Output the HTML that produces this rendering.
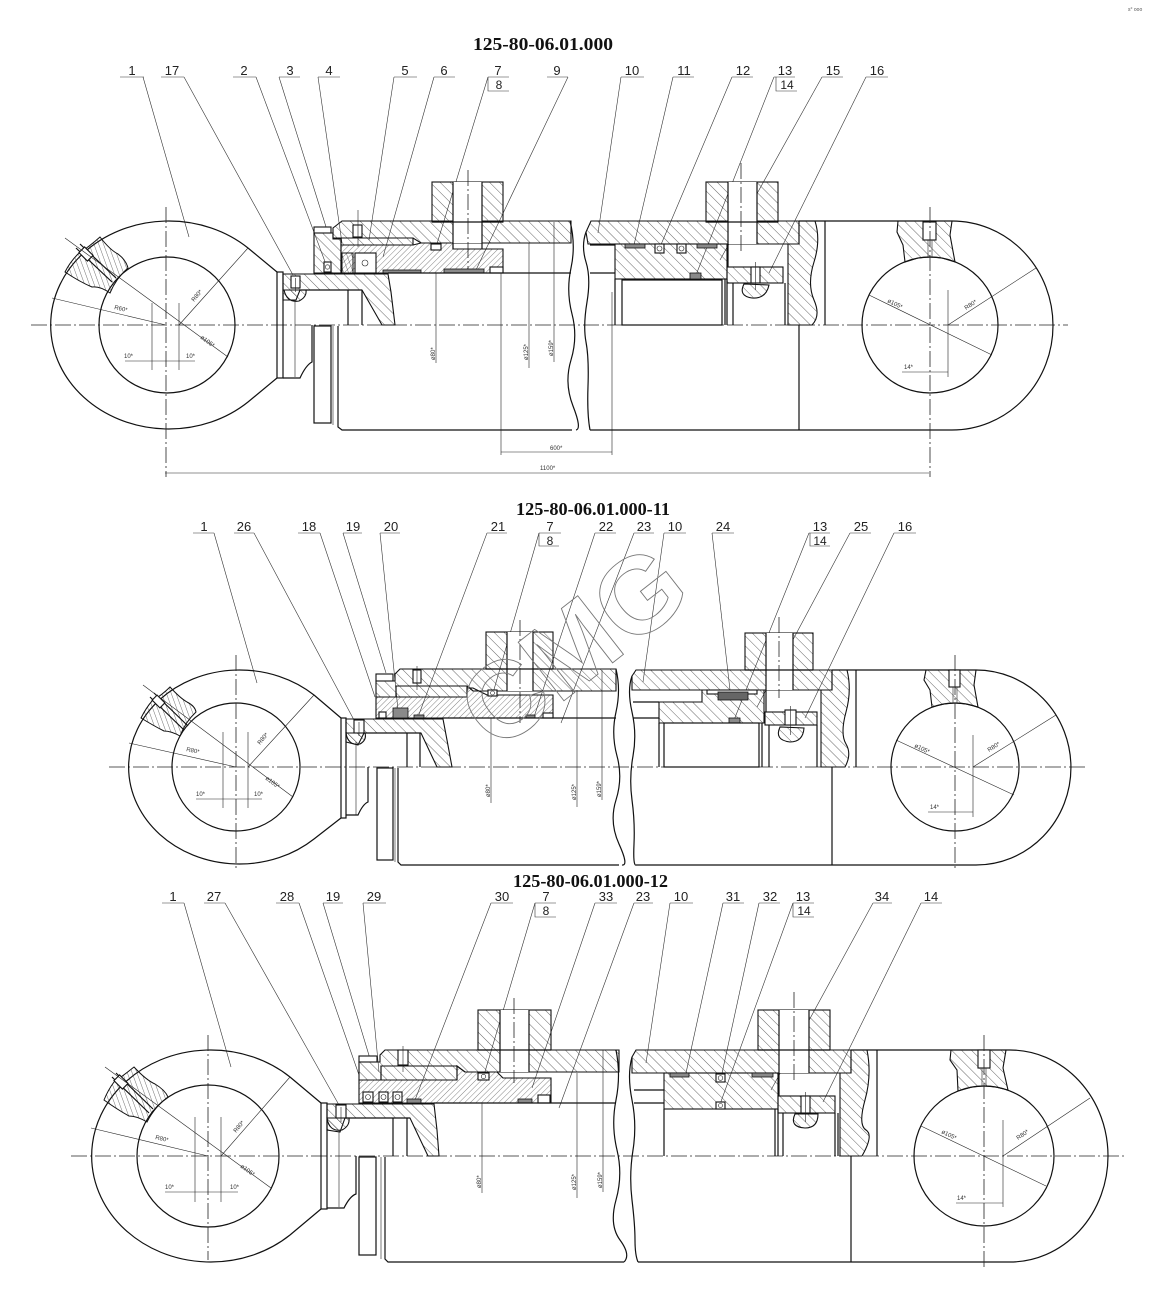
<!DOCTYPE html>
<html><head><meta charset="utf-8"><style>
html,body{margin:0;padding:0;background:#fff}
svg{display:block}
.k{stroke:#111;stroke-width:1.2;fill:none}
.kw{stroke:#111;stroke-width:1.1;fill:#fff}
.t{stroke:#222;stroke-width:0.6;fill:none}
.c{stroke:#222;stroke-width:0.8;stroke-dasharray:16 3 2 3;fill:none}
.h1{fill:url(#hA);stroke:#111;stroke-width:1.1}
.h2{fill:url(#hB);stroke:#111;stroke-width:1.1}
.h3{fill:url(#hC);stroke:#111;stroke-width:1}
.sd{fill:#8a8a8a;stroke:#111;stroke-width:0.8}
.lbl{font-family:"Liberation Sans Narrow","Liberation Sans",sans-serif;font-size:13px;fill:#222;text-anchor:middle}
.dim{font-family:"Liberation Sans",sans-serif;font-size:6px;fill:#333}
.ttl{font-family:"Liberation Serif",serif;font-weight:bold;font-size:18px;fill:#111}
.ld{stroke:#333;stroke-width:0.6;fill:none}
</style></head><body>
<svg width="1159" height="1295" viewBox="0 0 1159 1295" xmlns="http://www.w3.org/2000/svg">
<defs>
<pattern id="hA" width="7" height="7" patternUnits="userSpaceOnUse" patternTransform="rotate(-45)"><line x1="0" y1="-1" x2="0" y2="8" stroke="#333" stroke-width="0.75"/></pattern>
<pattern id="hB" width="4" height="4" patternUnits="userSpaceOnUse" patternTransform="rotate(45)"><line x1="0" y1="-1" x2="0" y2="5" stroke="#333" stroke-width="0.6"/></pattern>
<pattern id="hC" width="4.5" height="4.5" patternUnits="userSpaceOnUse" patternTransform="rotate(-20)"><line x1="0" y1="-1" x2="0" y2="6" stroke="#333" stroke-width="0.7"/></pattern>
</defs>
<rect width="1159" height="1295" fill="#fff"/>
<text x="1128" y="11" style="font-family:'Liberation Sans',sans-serif;font-size:5px;fill:#555">s° ooo</text>

<!-- ================= SECTION 1 ================= -->
<text class="ttl" x="473" y="50" textLength="140" lengthAdjust="spacingAndGlyphs">125-80-06.01.000</text>
<g>
<text class="lbl" x="132" y="75">1</text><line class="ld" x1="120" y1="77" x2="144" y2="77"/><line class="ld" x1="143" y1="77" x2="189" y2="237"/>
<text class="lbl" x="172" y="75">17</text><line class="ld" x1="161" y1="77" x2="184" y2="77"/><line class="ld" x1="184" y1="77" x2="293" y2="275"/>
<text class="lbl" x="244" y="75">2</text><line class="ld" x1="233" y1="77" x2="256" y2="77"/><line class="ld" x1="256" y1="77" x2="327" y2="267"/>
<text class="lbl" x="290" y="75">3</text><line class="ld" x1="279" y1="77" x2="300" y2="77"/><line class="ld" x1="279" y1="77" x2="327" y2="230"/>
<text class="lbl" x="329" y="75">4</text><line class="ld" x1="318" y1="77" x2="340" y2="77"/><line class="ld" x1="318" y1="77" x2="342" y2="243"/>
<text class="lbl" x="405" y="75">5</text><line class="ld" x1="394" y1="77" x2="417" y2="77"/><line class="ld" x1="394" y1="77" x2="369" y2="240"/>
<text class="lbl" x="444" y="75">6</text><line class="ld" x1="434" y1="77" x2="455" y2="77"/><line class="ld" x1="434" y1="77" x2="383" y2="257"/>
<text class="lbl" x="498" y="75">7</text><line class="ld" x1="488" y1="77" x2="509" y2="77"/><polyline class="ld" points="488,77 488,91 509,91"/><text class="lbl" x="499" y="89" style="font-size:12px">8</text><line class="ld" x1="488" y1="77" x2="436" y2="247"/>
<text class="lbl" x="557" y="75">9</text><line class="ld" x1="547" y1="77" x2="568" y2="77"/><line class="ld" x1="568" y1="77" x2="476" y2="270"/>
<text class="lbl" x="632" y="75">10</text><line class="ld" x1="621" y1="77" x2="644" y2="77"/><line class="ld" x1="621" y1="77" x2="598" y2="233"/>
<text class="lbl" x="684" y="75">11</text><line class="ld" x1="673" y1="77" x2="694" y2="77"/><line class="ld" x1="673" y1="77" x2="634" y2="245"/>
<text class="lbl" x="743" y="75">12</text><line class="ld" x1="732" y1="77" x2="753" y2="77"/><line class="ld" x1="732" y1="77" x2="660" y2="247"/>
<text class="lbl" x="785" y="75">13</text><line class="ld" x1="774" y1="77" x2="795" y2="77"/><polyline class="ld" points="776,77 776,91 797,91"/><text class="lbl" x="787" y="89" style="font-size:12px">14</text><line class="ld" x1="774" y1="77" x2="696" y2="275"/>
<text class="lbl" x="833" y="75">15</text><line class="ld" x1="822" y1="77" x2="843" y2="77"/><line class="ld" x1="822" y1="77" x2="720" y2="260"/>
<text class="lbl" x="877" y="75">16</text><line class="ld" x1="866" y1="77" x2="888" y2="77"/><line class="ld" x1="866" y1="77" x2="769" y2="273"/>
</g>

<line class="c" x1="31" y1="325" x2="1068" y2="325"/>
<!-- left eye -->
<path class="k" d="M248,248 L277,272 M248,248 A118,104 0 1,0 248,402 L277,378"/>
<circle class="k" cx="167" cy="325" r="68"/>
<path class="h3" d="M100,237 Q110,250 118,254 Q126,260 128,268 A68,68 0 0,0 110,293 Q100,286 92,287 Q80,282 65,272 Q70,262 78,254 Q90,246 100,237 Z"/>
<line class="k" x1="76" y1="248" x2="112" y2="282"/>
<line class="k" x1="80" y1="244" x2="116" y2="278"/>
<rect class="kw" x="82" y="248" width="8" height="12" transform="rotate(-45 86 254)"/>
<line class="t" x1="65" y1="238" x2="228" y2="357"/>
<line class="c" x1="166" y1="207" x2="166" y2="477"/>
<line class="t" x1="152" y1="303" x2="152" y2="370"/><line class="t" x1="179" y1="303" x2="179" y2="370"/>
<line class="t" x1="125" y1="361" x2="195" y2="361"/>
<text class="dim" x="124" y="358">10*</text><text class="dim" x="186" y="358">10*</text>
<line class="t" x1="52" y1="298" x2="166" y2="325"/>
<line class="t" x1="179" y1="325" x2="248" y2="248"/>
<text class="dim" transform="translate(114,309) rotate(13)">R60*</text>
<text class="dim" transform="translate(194,302) rotate(-50)">R80*</text>
<text class="dim" transform="translate(200,338) rotate(37)">ø105*</text>
<!-- rod end -->
<rect class="k" x="277" y="272" width="6" height="106"/>
<polygon class="h1" points="283,274 388,274 391,292 395,325 382,325 362,290 300,290 296,300 283,300"/>
<path class="h1" d="M284,290 Q287,303 299,301 Q307,297 306,290 Z"/>
<rect class="kw" x="291" y="276" width="9" height="12"/><line class="t" x1="295.5" y1="278" x2="295.5" y2="292"/>
<line class="k" x1="300" y1="290" x2="362" y2="290"/>
<line class="k" x1="348" y1="290" x2="348" y2="325"/>
<line class="k" x1="362" y1="290" x2="362" y2="325"/>
<line class="t" x1="295" y1="300" x2="295" y2="377"/>
<path class="k" d="M283,378 L300,378 Q306,365 312,362 L312,325"/>
<rect class="k" x="314" y="326" width="17" height="97"/>
<line class="t" x1="333" y1="326" x2="333" y2="425"/>
<path class="k" d="M338,326 L338,427 L342,430 L572,430"/>
<!-- gland -->
<rect class="kw" x="314" y="227" width="17" height="6"/>
<polygon class="h1" points="314,233 333,233 333,239 341,239 341,273 314,273"/>
<polygon class="h1" points="333,228 342,221 571,221 571,243 421,243 413,238 333,238"/>
<polygon class="h1" points="341,238 413,238 413,245 341,245"/>
<polygon class="h2" points="341,245 413,245 421,243 453,243 453,249 503,249 503,273 341,273"/>
<rect class="h1" x="432" y="182" width="71" height="40"/>
<rect x="453" y="182" width="29" height="61" fill="#fff"/>
<line class="k" x1="453" y1="182" x2="453" y2="249"/><line class="k" x1="482" y1="182" x2="482" y2="249"/>
<line class="k" x1="432" y1="222" x2="503" y2="222"/>
<line class="c" x1="468" y1="170" x2="468" y2="270"/>
<rect class="kw" x="324" y="262" width="7" height="10"/><circle class="t" cx="327.5" cy="267" r="2.2"/>
<rect class="h3" x="342" y="253" width="11" height="20"/>
<rect class="kw" x="355" y="253" width="21" height="20"/><circle class="t" cx="365" cy="263" r="3"/>
<rect class="sd" x="383" y="270" width="38" height="3"/>
<rect class="sd" x="444" y="269" width="40" height="4"/>
<rect class="kw" x="431" y="244" width="10" height="6"/>
<rect class="kw" x="353" y="225" width="9" height="12"/><line class="t" x1="358" y1="210" x2="358" y2="247"/>
<rect class="kw" x="490" y="267" width="13" height="6"/>
<line class="k" x1="388" y1="273" x2="571" y2="273"/>
<!-- dims -->
<line class="t" x1="436" y1="273" x2="436" y2="363"/><text class="dim" transform="translate(435,360) rotate(-90)">ø80*</text>
<line class="t" x1="529" y1="243" x2="529" y2="368"/><text class="dim" transform="translate(528,360) rotate(-90)">ø125*</text>
<line class="t" x1="554" y1="222" x2="554" y2="362"/><text class="dim" transform="translate(553,356) rotate(-90)">ø159*</text>
<line class="t" x1="501" y1="273" x2="501" y2="455"/><line class="t" x1="612" y1="292" x2="612" y2="455"/>
<line class="t" x1="501" y1="452" x2="612" y2="452"/><text class="dim" x="550" y="450">600*</text>
<line class="t" x1="165" y1="473" x2="929" y2="473"/><text class="dim" x="540" y="470">1100*</text>
<!-- breaks -->
<path class="k" d="M570,221 Q576,245 571,268 T572,314 T571,360 T573,406 T576,430"/>
<path class="k" d="M586,232 Q581,246 586,262 T587,302 T586,342 T588,386 T590,430"/>
<!-- right side -->
<polygon class="h1" points="586,232 591,221 799,221 799,244 588,244"/>
<rect class="h1" x="706" y="182" width="72" height="40"/>
<rect x="728" y="182" width="29" height="62" fill="#fff"/>
<line class="k" x1="728" y1="182" x2="728" y2="267"/><line class="k" x1="757" y1="182" x2="757" y2="244"/>
<line class="k" x1="706" y1="222" x2="778" y2="222"/>
<line class="c" x1="741" y1="163" x2="741" y2="253"/>
<line class="k" x1="590" y1="245" x2="615" y2="245"/>
<line class="k" x1="590" y1="273" x2="615" y2="273"/>
<rect class="h1" x="615" y="244" width="112" height="35"/>
<rect class="sd" x="625" y="244" width="20" height="4"/>
<rect class="kw" x="655" y="244" width="9" height="9"/><circle class="t" cx="659.5" cy="248.5" r="2.5"/>
<rect class="kw" x="677" y="244" width="9" height="9"/><circle class="t" cx="681.5" cy="248.5" r="2.5"/>
<rect class="sd" x="697" y="244" width="20" height="4"/>
<rect class="sd" x="690" y="273" width="11" height="6"/>
<line class="k" x1="615" y1="279" x2="615" y2="325"/>
<rect class="k" x="622" y="280" width="100" height="45"/>
<line class="k" x1="725" y1="279" x2="725" y2="325"/><line class="k" x1="727" y1="279" x2="727" y2="325"/>
<line class="k" x1="733" y1="283" x2="733" y2="325"/><line class="k" x1="785" y1="283" x2="785" y2="325"/>
<rect class="h1" x="727" y="267" width="56" height="16"/>
<rect class="kw" x="751" y="267" width="9" height="16"/><line class="t" x1="755.5" y1="262" x2="755.5" y2="290"/>
<path class="h1" d="M744,284 Q738,296 752,298 Q766,299 769,285 Z"/>
<path class="h1" d="M788,244 L799,244 L799,221 L815,221 Q821,240 814,262 T814,300 T812,325 L788,325 Z"/>
<line class="k" x1="825" y1="221" x2="825" y2="325"/>
<line class="k" x1="590" y1="430" x2="799" y2="430"/>
<line class="k" x1="799" y1="325" x2="799" y2="430"/>
<path class="k" d="M799,221 L952,221 A101,104.5 0 0,1 952,430 L799,430"/>
<circle class="k" cx="930" cy="325" r="68"/>
<polygon class="h1" points="898,221 952,221 950,235 955,262 942,258 930,257 918,258 905,262 903,245 897,232"/>
<rect class="kw" x="923" y="222" width="13" height="18"/>
<line class="t" x1="928" y1="240" x2="928" y2="258"/><line class="t" x1="932" y1="240" x2="932" y2="258"/>
<line class="c" x1="930" y1="207" x2="930" y2="477"/>
<line class="t" x1="869" y1="295" x2="992" y2="355"/>
<line class="t" x1="948" y1="325" x2="1036" y2="268"/>
<line class="t" x1="948" y1="290" x2="948" y2="377"/>
<line class="t" x1="902" y1="372" x2="948" y2="372"/>
<text class="dim" transform="translate(887,302) rotate(26)">ø105*</text>
<text class="dim" transform="translate(966,310) rotate(-33)">R80*</text>
<text class="dim" x="904" y="369">14*</text>

<!-- ================= SECTION 2 ================= -->
<text class="ttl" x="516" y="515" textLength="154" lengthAdjust="spacingAndGlyphs">125-80-06.01.000-11</text>
<g>
<text class="lbl" x="204" y="531">1</text><line class="ld" x1="193" y1="533" x2="214" y2="533"/><line class="ld" x1="214" y1="533" x2="257" y2="683"/>
<text class="lbl" x="244" y="531">26</text><line class="ld" x1="234" y1="533" x2="254" y2="533"/><line class="ld" x1="254" y1="533" x2="354" y2="720"/>
<text class="lbl" x="309" y="531">18</text><line class="ld" x1="298" y1="533" x2="320" y2="533"/><line class="ld" x1="320" y1="533" x2="375" y2="697"/>
<text class="lbl" x="353" y="531">19</text><line class="ld" x1="343" y1="533" x2="362" y2="533"/><line class="ld" x1="343" y1="533" x2="386" y2="673"/>
<text class="lbl" x="391" y="531">20</text><line class="ld" x1="380" y1="533" x2="400" y2="533"/><line class="ld" x1="380" y1="533" x2="398" y2="710"/>
<text class="lbl" x="498" y="531">21</text><line class="ld" x1="487" y1="533" x2="507" y2="533"/><line class="ld" x1="487" y1="533" x2="418" y2="717"/>
<text class="lbl" x="550" y="531">7</text><line class="ld" x1="539" y1="533" x2="561" y2="533"/><polyline class="ld" points="539,533 539,546 559,546"/><text class="lbl" x="550" y="545" style="font-size:12px">8</text><line class="ld" x1="539" y1="533" x2="493" y2="693"/>
<text class="lbl" x="606" y="531">22</text><line class="ld" x1="595" y1="533" x2="616" y2="533"/><line class="ld" x1="595" y1="533" x2="534" y2="717"/>
<text class="lbl" x="644" y="531">23</text><line class="ld" x1="634" y1="533" x2="654" y2="533"/><line class="ld" x1="634" y1="533" x2="561" y2="723"/>
<text class="lbl" x="675" y="531">10</text><line class="ld" x1="664" y1="533" x2="686" y2="533"/><line class="ld" x1="664" y1="533" x2="643" y2="682"/>
<text class="lbl" x="723" y="531">24</text><line class="ld" x1="712" y1="533" x2="734" y2="533"/><line class="ld" x1="712" y1="533" x2="730" y2="690"/>
<text class="lbl" x="820" y="531">13</text><line class="ld" x1="809" y1="533" x2="830" y2="533"/><polyline class="ld" points="810,533 810,546 830,546"/><text class="lbl" x="820" y="545" style="font-size:12px">14</text><line class="ld" x1="809" y1="533" x2="734" y2="720"/>
<text class="lbl" x="861" y="531">25</text><line class="ld" x1="850" y1="533" x2="871" y2="533"/><line class="ld" x1="850" y1="533" x2="757" y2="707"/>
<text class="lbl" x="905" y="531">16</text><line class="ld" x1="894" y1="533" x2="916" y2="533"/><line class="ld" x1="894" y1="533" x2="805" y2="718"/>
</g>

<line class="c" x1="109" y1="767" x2="1085" y2="767"/>
<!-- left eye -->
<path class="k" d="M314,695 L341,718 M314,695 A111,97 0 1,0 314,839 L341,818"/>
<circle class="k" cx="236" cy="767" r="64"/>
<path class="h3" d="M170,687 Q180,698 187,702 Q195,706 196,712 A64,64 0 0,0 180,736 Q171,731 164,731 Q154,726 141,718 Q146,708 152,701 Q162,695 170,687 Z"/>
<line class="k" x1="150" y1="697" x2="184" y2="730"/>
<line class="k" x1="154" y1="693" x2="188" y2="726"/>
<rect class="kw" x="155" y="696" width="7" height="11" transform="rotate(-45 158.5 701.5)"/>
<line class="t" x1="143" y1="685" x2="293" y2="797"/>
<line class="c" x1="236" y1="655" x2="236" y2="868"/>
<line class="t" x1="223" y1="732" x2="223" y2="808"/><line class="t" x1="248" y1="732" x2="248" y2="808"/>
<line class="t" x1="196" y1="799" x2="262" y2="799"/>
<text class="dim" x="196" y="796">10*</text><text class="dim" x="254" y="796">10*</text>
<line class="t" x1="129" y1="743" x2="236" y2="767"/>
<line class="t" x1="248" y1="767" x2="314" y2="695"/>
<text class="dim" transform="translate(186,751) rotate(12)">R80*</text>
<text class="dim" transform="translate(260,745) rotate(-50)">R80*</text>
<text class="dim" transform="translate(265,779) rotate(37)">ø105*</text>
<!-- rod end -->
<rect class="k" x="341" y="718" width="5" height="100"/>
<polygon class="h1" points="346,719 443,719 447,740 452,767 437,767 421,733 364,733 358,745 346,742"/>
<path class="h1" d="M346,733 Q348,746 360,744 Q367,740 365,733 Z"/>
<rect class="kw" x="354" y="720" width="10" height="13"/><line class="t" x1="359" y1="722" x2="359" y2="736"/>
<line class="k" x1="364" y1="733" x2="421" y2="733"/>
<line class="k" x1="407" y1="733" x2="407" y2="767"/><line class="k" x1="420" y1="733" x2="420" y2="767"/>
<line class="t" x1="356" y1="742" x2="356" y2="815"/>
<path class="k" d="M346,815 L358,815 Q363,804 368,802 L368,767"/>
<rect class="k" x="377" y="768" width="16" height="92"/>
<line class="t" x1="395" y1="768" x2="395" y2="862"/>
<path class="k" d="M398,768 L398,862 L401,865 L619,865"/>
<!-- gland -->
<rect class="kw" x="376" y="674" width="17" height="7"/>
<polygon class="h1" points="376,681 395,681 395,674 400,669 616,669 616,691 473,691 467,686 396,686 396,697 376,697"/>
<polygon class="h1" points="396,686 467,686 467,697 396,697"/>
<polygon class="h2" points="376,697 467,697 467,688 473,688 487,695 553,695 553,718 376,718"/>
<rect class="h1" x="486" y="632" width="67" height="37"/>
<rect x="507" y="632" width="26" height="59" fill="#fff"/>
<line class="k" x1="507" y1="632" x2="507" y2="691"/><line class="k" x1="533" y1="632" x2="533" y2="691"/>
<line class="k" x1="486" y1="669" x2="553" y2="669"/>
<line class="c" x1="520" y1="620" x2="520" y2="723"/>
<rect class="kw" x="379" y="712" width="7" height="6"/>
<rect class="sd" x="393" y="708" width="15" height="10"/>
<rect class="sd" x="414" y="715" width="10" height="3"/>
<rect class="kw" x="488" y="690" width="9" height="6"/><circle class="t" cx="492.5" cy="693" r="2"/>
<rect class="sd" x="526" y="715" width="9" height="3"/>
<rect class="kw" x="413" y="670" width="8" height="13"/><line class="t" x1="417" y1="666" x2="417" y2="690"/>
<rect class="kw" x="543" y="713" width="10" height="5"/>
<line class="k" x1="443" y1="718" x2="616" y2="718"/>
<line class="t" x1="491" y1="718" x2="491" y2="803"/><text class="dim" transform="translate(490,797) rotate(-90)">ø80*</text>
<line class="t" x1="577" y1="690" x2="577" y2="807"/><text class="dim" transform="translate(576,800) rotate(-90)">ø125*</text>
<line class="t" x1="602" y1="670" x2="602" y2="800"/><text class="dim" transform="translate(601,797) rotate(-90)">ø159*</text>
<path class="k" d="M616,669 Q621,690 616,712 T617,756 T616,800 T619,844 T622,865"/>
<path class="k" d="M632,676 Q627,690 632,712 T633,756 T632,800 T634,844 T636,865"/>
<!-- right side -->
<polygon class="h1" points="632,676 636,670 832,670 832,690 632,690"/>
<rect class="h1" x="745" y="633" width="68" height="37"/>
<rect x="766" y="633" width="27" height="57" fill="#fff"/>
<line class="k" x1="766" y1="633" x2="766" y2="712"/><line class="k" x1="793" y1="633" x2="793" y2="690"/>
<line class="k" x1="745" y1="670" x2="813" y2="670"/>
<line class="c" x1="779" y1="617" x2="779" y2="698"/>
<line class="k" x1="633" y1="718" x2="659" y2="718"/>
<line class="k" x1="633" y1="702" x2="659" y2="702"/>
<polygon class="h1" points="659,702 702,702 702,690 764,690 764,723 659,723"/>
<rect class="kw" x="707" y="690" width="50" height="4"/>
<rect class="sd" x="718" y="692" width="30" height="8" style="fill:#666"/>
<rect class="sd" x="729" y="718" width="11" height="5"/>
<line class="k" x1="659" y1="723" x2="659" y2="767"/>
<rect class="k" x="664" y="723" width="95" height="44"/>
<line class="k" x1="762" y1="723" x2="762" y2="767"/><line class="k" x1="769" y1="725" x2="769" y2="767"/>
<line class="k" x1="817" y1="725" x2="817" y2="767"/>
<rect class="h1" x="765" y="712" width="52" height="13"/>
<rect class="kw" x="785" y="710" width="11" height="15"/><line class="t" x1="790.5" y1="706" x2="790.5" y2="735"/>
<path class="h1" d="M780,727 Q774,740 790,742 Q803,742 804,728 Z"/>
<path class="h1" d="M821,690 L832,690 L832,670 L847,670 Q852,690 846,712 T846,744 T845,767 L821,767 Z"/>
<line class="k" x1="856" y1="670" x2="856" y2="767"/>
<line class="k" x1="636" y1="865" x2="832" y2="865"/>
<line class="k" x1="832" y1="767" x2="832" y2="865"/>
<path class="k" d="M832,670 L976,670 A95,97.5 0 0,1 976,865 L832,865"/>
<circle class="k" cx="955" cy="767" r="64"/>
<polygon class="h1" points="926,670 976,670 974,685 978,707 966,704 955,703 944,704 932,707 930,690 924,680"/>
<rect class="kw" x="949" y="670" width="11" height="17"/>
<line class="t" x1="953" y1="687" x2="953" y2="703"/><line class="t" x1="957" y1="687" x2="957" y2="703"/>
<line class="c" x1="955" y1="655" x2="955" y2="870"/>
<line class="t" x1="896" y1="740" x2="1014" y2="795"/>
<line class="t" x1="973" y1="767" x2="1056" y2="715"/>
<line class="t" x1="973" y1="735" x2="973" y2="817"/>
<line class="t" x1="928" y1="812" x2="973" y2="812"/>
<text class="dim" transform="translate(914,747) rotate(25)">ø105*</text>
<text class="dim" transform="translate(989,752) rotate(-32)">R80*</text>
<text class="dim" x="930" y="809">14*</text>
<!-- watermark -->
<text x="572" y="684" text-anchor="middle" transform="rotate(-38 572 645)" style="font-family:'Liberation Sans',sans-serif;font-weight:bold;font-size:108px;fill:none;stroke:#777;stroke-width:0.9">CMG</text>

<!-- ================= SECTION 3 ================= -->
<text class="ttl" x="513" y="887" textLength="155" lengthAdjust="spacingAndGlyphs">125-80-06.01.000-12</text>
<g>
<text class="lbl" x="173" y="901">1</text><line class="ld" x1="162" y1="903" x2="184" y2="903"/><line class="ld" x1="184" y1="903" x2="231" y2="1067"/>
<text class="lbl" x="214" y="901">27</text><line class="ld" x1="204" y1="903" x2="225" y2="903"/><line class="ld" x1="225" y1="903" x2="339" y2="1105"/>
<text class="lbl" x="287" y="901">28</text><line class="ld" x1="276" y1="903" x2="299" y2="903"/><line class="ld" x1="299" y1="903" x2="359" y2="1075"/>
<text class="lbl" x="333" y="901">19</text><line class="ld" x1="323" y1="903" x2="343" y2="903"/><line class="ld" x1="323" y1="903" x2="371" y2="1062"/>
<text class="lbl" x="374" y="901">29</text><line class="ld" x1="363" y1="903" x2="386" y2="903"/><line class="ld" x1="363" y1="903" x2="379" y2="1072"/>
<text class="lbl" x="502" y="901">30</text><line class="ld" x1="491" y1="903" x2="513" y2="903"/><line class="ld" x1="491" y1="903" x2="415" y2="1100"/>
<text class="lbl" x="546" y="901">7</text><line class="ld" x1="535" y1="903" x2="556" y2="903"/><polyline class="ld" points="535,903 535,917 556,917"/><text class="lbl" x="546" y="915" style="font-size:12px">8</text><line class="ld" x1="535" y1="903" x2="484" y2="1075"/>
<text class="lbl" x="606" y="901">33</text><line class="ld" x1="595" y1="903" x2="617" y2="903"/><line class="ld" x1="595" y1="903" x2="532" y2="1088"/>
<text class="lbl" x="643" y="901">23</text><line class="ld" x1="634" y1="903" x2="653" y2="903"/><line class="ld" x1="634" y1="903" x2="559" y2="1108"/>
<text class="lbl" x="681" y="901">10</text><line class="ld" x1="670" y1="903" x2="693" y2="903"/><line class="ld" x1="670" y1="903" x2="646" y2="1063"/>
<text class="lbl" x="733" y="901">31</text><line class="ld" x1="723" y1="903" x2="744" y2="903"/><line class="ld" x1="723" y1="903" x2="686" y2="1073"/>
<text class="lbl" x="770" y="901">32</text><line class="ld" x1="759" y1="903" x2="780" y2="903"/><line class="ld" x1="759" y1="903" x2="721" y2="1078"/>
<text class="lbl" x="803" y="901">13</text><line class="ld" x1="793" y1="903" x2="814" y2="903"/><polyline class="ld" points="793,903 793,917 814,917"/><text class="lbl" x="804" y="915" style="font-size:12px">14</text><line class="ld" x1="793" y1="903" x2="719" y2="1107"/>
<text class="lbl" x="882" y="901">34</text><line class="ld" x1="873" y1="903" x2="892" y2="903"/><line class="ld" x1="873" y1="903" x2="771" y2="1090"/>
<text class="lbl" x="931" y="901">14</text><line class="ld" x1="921" y1="903" x2="942" y2="903"/><line class="ld" x1="921" y1="903" x2="823" y2="1102"/>
</g>

<line class="c" x1="71" y1="1156" x2="1124" y2="1156"/>
<!-- left eye -->
<path class="k" d="M290,1077 L321,1103 M290,1077 A119,106 0 1,0 290,1235 L321,1209"/>
<circle class="k" cx="208" cy="1156" r="71"/>
<path class="h3" d="M134,1067 Q146,1080 155,1084 Q165,1090 168,1097 A71,71 0 0,0 147,1122 Q137,1116 129,1116 Q118,1110 104,1100 Q108,1090 114,1082 Q124,1075 134,1067 Z"/>
<line class="k" x1="112" y1="1077" x2="149" y2="1113"/>
<line class="k" x1="116" y1="1073" x2="153" y2="1109"/>
<rect class="kw" x="117" y="1076" width="8" height="12" transform="rotate(-45 121 1082)"/>
<line class="t" x1="105" y1="1067" x2="271" y2="1188"/>
<line class="c" x1="208" y1="1035" x2="208" y2="1260"/>
<line class="t" x1="195" y1="1117" x2="195" y2="1202"/><line class="t" x1="221" y1="1117" x2="221" y2="1202"/>
<line class="t" x1="165" y1="1192" x2="238" y2="1192"/>
<text class="dim" x="165" y="1189">10*</text><text class="dim" x="230" y="1189">10*</text>
<line class="t" x1="91" y1="1128" x2="208" y2="1156"/>
<line class="t" x1="221" y1="1156" x2="290" y2="1077"/>
<text class="dim" transform="translate(155,1139) rotate(13)">R80*</text>
<text class="dim" transform="translate(236,1133) rotate(-50)">R80*</text>
<text class="dim" transform="translate(240,1167) rotate(36)">ø105*</text>
<!-- rod end -->
<rect class="k" x="321" y="1103" width="6" height="106"/>
<polygon class="h1" points="327,1104 434,1104 437,1130 439,1156 428,1156 410,1118 345,1118 340,1132 327,1130"/>
<path class="h1" d="M327,1118 Q329,1132 342,1130 Q350,1126 349,1118 Z"/>
<rect class="kw" x="336" y="1105" width="10" height="13"/><line class="t" x1="341" y1="1107" x2="341" y2="1122"/>
<line class="k" x1="345" y1="1118" x2="410" y2="1118"/>
<line class="k" x1="393" y1="1118" x2="393" y2="1156"/><line class="k" x1="407" y1="1118" x2="407" y2="1156"/>
<line class="t" x1="339" y1="1130" x2="339" y2="1207"/>
<path class="k" d="M327,1208 L344,1208 Q350,1196 356,1194 L356,1156"/>
<rect class="k" x="359" y="1157" width="17" height="98"/>
<line class="t" x1="381" y1="1157" x2="381" y2="1259"/>
<path class="k" d="M385,1157 L385,1259 L388,1262 L624,1262"/>
<!-- gland -->
<rect class="kw" x="359" y="1056" width="18" height="6"/>
<polygon class="h1" points="359,1062 380,1062 380,1055 385,1050 619,1050 619,1072 497,1072 465,1072 457,1066 381,1066 381,1080 359,1080"/>
<polygon class="h1" points="381,1066 457,1066 457,1080 381,1080"/>
<polygon class="h2" points="359,1080 457,1080 457,1066 465,1072 497,1072 503,1078 551,1078 551,1103 359,1103"/>
<rect class="h1" x="478" y="1010" width="73" height="40"/>
<rect x="500" y="1010" width="29" height="62" fill="#fff"/>
<line class="k" x1="500" y1="1010" x2="500" y2="1072"/><line class="k" x1="529" y1="1010" x2="529" y2="1072"/>
<line class="k" x1="478" y1="1050" x2="551" y2="1050"/>
<line class="c" x1="514" y1="998" x2="514" y2="1083"/>
<rect class="kw" x="363" y="1092" width="10" height="10"/><circle class="t" cx="368" cy="1097" r="2.5"/>
<rect class="kw" x="379" y="1092" width="9" height="10"/><circle class="t" cx="383.5" cy="1097" r="2.5"/>
<rect class="kw" x="393" y="1092" width="9" height="10"/><circle class="t" cx="397.5" cy="1097" r="2.5"/>
<rect class="sd" x="407" y="1099" width="14" height="4"/>
<rect class="kw" x="478" y="1073" width="11" height="7"/><circle class="t" cx="483.5" cy="1076.5" r="2.2"/>
<rect class="sd" x="518" y="1099" width="14" height="4"/>
<rect class="kw" x="538" y="1095" width="12" height="8"/>
<rect class="kw" x="398" y="1050" width="10" height="15"/><line class="t" x1="403" y1="1046" x2="403" y2="1072"/>
<line class="k" x1="434" y1="1103" x2="616" y2="1103"/>
<line class="t" x1="482" y1="1103" x2="482" y2="1193"/><text class="dim" transform="translate(481,1188) rotate(-90)">ø80*</text>
<line class="t" x1="577" y1="1073" x2="577" y2="1198"/><text class="dim" transform="translate(576,1190) rotate(-90)">ø125*</text>
<line class="t" x1="603" y1="1050" x2="603" y2="1192"/><text class="dim" transform="translate(602,1188) rotate(-90)">ø159*</text>
<path class="k" d="M616,1050 Q621,1075 616,1100 T617,1150 T616,1200 T620,1240 T624,1262"/>
<path class="k" d="M632,1057 Q627,1075 632,1100 T633,1150 T632,1200 T635,1240 T638,1262"/>
<!-- right side -->
<polygon class="h1" points="632,1057 636,1050 851,1050 851,1073 632,1073"/>
<rect class="h1" x="758" y="1010" width="72" height="40"/>
<rect x="779" y="1010" width="30" height="63" fill="#fff"/>
<line class="k" x1="779" y1="1010" x2="779" y2="1096"/><line class="k" x1="809" y1="1010" x2="809" y2="1073"/>
<line class="k" x1="758" y1="1050" x2="830" y2="1050"/>
<line class="c" x1="794" y1="992" x2="794" y2="1083"/>
<line class="k" x1="634" y1="1103" x2="664" y2="1103"/>
<line class="k" x1="634" y1="1090" x2="664" y2="1090"/>
<rect class="h1" x="664" y="1073" width="114" height="36"/>
<rect class="sd" x="670" y="1073" width="19" height="4"/>
<rect class="kw" x="716" y="1074" width="9" height="8"/><circle class="t" cx="720.5" cy="1078" r="2.3"/>
<rect class="sd" x="752" y="1073" width="21" height="4"/>
<rect class="kw" x="716" y="1102" width="9" height="7"/><circle class="t" cx="720.5" cy="1105.5" r="2"/>
<line class="k" x1="664" y1="1109" x2="664" y2="1156"/>
<line class="k" x1="775" y1="1109" x2="775" y2="1156"/><line class="k" x1="778" y1="1109" x2="778" y2="1156"/>
<line class="k" x1="783" y1="1113" x2="783" y2="1156"/>
<line class="k" x1="835" y1="1113" x2="835" y2="1156"/><line class="k" x1="838" y1="1113" x2="838" y2="1156"/>
<rect class="h1" x="778" y="1096" width="57" height="17"/>
<rect class="kw" x="801" y="1096" width="9" height="17"/><line class="t" x1="805.5" y1="1092" x2="805.5" y2="1122"/>
<path class="h1" d="M795,1114 Q789,1127 805,1128 Q818,1128 818,1114 Z"/>
<path class="h1" d="M840,1073 L851,1073 L851,1050 L867,1050 Q872,1075 865,1100 T866,1130 T862,1156 L840,1156 Z"/>
<line class="k" x1="877" y1="1050" x2="877" y2="1156"/>
<line class="k" x1="638" y1="1262" x2="851" y2="1262"/>
<line class="k" x1="851" y1="1156" x2="851" y2="1262"/>
<path class="k" d="M851,1050 L1010,1050 A98,106 0 0,1 1010,1262 L851,1262"/>
<circle class="k" cx="984" cy="1156" r="70"/>
<polygon class="h1" points="951,1050 1006,1050 1003,1068 1008,1090 996,1087 984,1086 972,1087 958,1091 957,1070 950,1060"/>
<rect class="kw" x="978" y="1050" width="12" height="18"/>
<line class="t" x1="982" y1="1068" x2="982" y2="1086"/><line class="t" x1="986" y1="1068" x2="986" y2="1086"/>
<line class="c" x1="984" y1="1035" x2="984" y2="1268"/>
<line class="t" x1="921" y1="1126" x2="1046" y2="1186"/>
<line class="t" x1="1003" y1="1156" x2="1090" y2="1098"/>
<line class="t" x1="1003" y1="1120" x2="1003" y2="1207"/>
<line class="t" x1="956" y1="1203" x2="1003" y2="1203"/>
<text class="dim" transform="translate(941,1133) rotate(26)">ø105*</text>
<text class="dim" transform="translate(1018,1140) rotate(-34)">R80*</text>
<text class="dim" x="957" y="1200">14*</text>
</svg>
</body></html>
